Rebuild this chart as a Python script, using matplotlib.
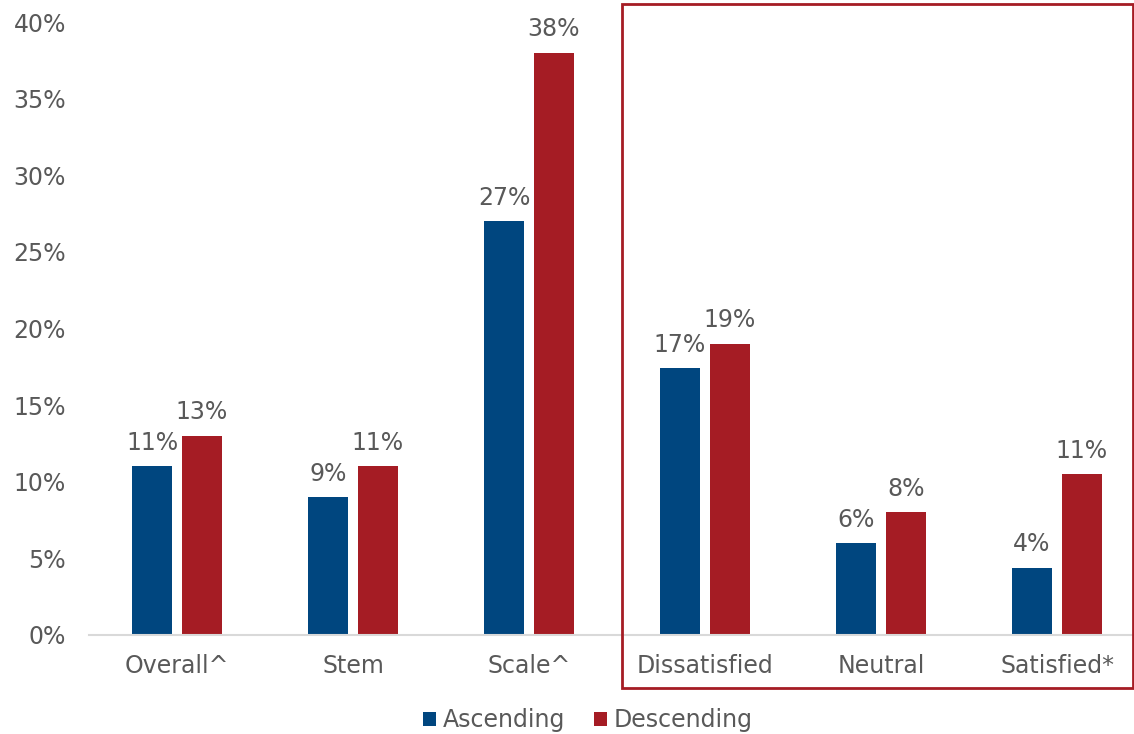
import matplotlib.pyplot as plt
from matplotlib import patches
import numpy as np

categories = ['Overall^', 'Stem', 'Scale^', 'Dissatisfied', 'Neutral', 'Satisfied*']
ascending = [11, 9, 27, 17.4, 6, 4.4]
descending = [13, 11, 38, 19, 8, 10.5]

blue = '#00467F'
red = '#A51C24'
grey = '#595959'

plt.rcParams['font.family'] = 'DejaVu Sans'
fs = 17

fig = plt.figure(figsize=(11.34, 7.34), dpi=100)
ax = fig.add_axes([89/1134, 1 - 635/734, 1056/1134, (635 - 22)/734])

x = np.arange(len(categories))
w = 0.222
off = 0.142
b1 = ax.bar(x - off, ascending, w, color=blue, label='Ascending')
b2 = ax.bar(x + off, descending, w, color=red, label='Descending')

# round half up for the value labels
for bars, vals in ((b1, ascending), (b2, descending)):
    for bar, v in zip(bars, vals):
        ax.text(bar.get_x() + bar.get_width()/2, v + 0.75, f'{int(v + 0.5)}%',
                ha='center', va='bottom', fontsize=fs, color=grey)

ax.set_xlim(-0.5, len(categories) - 0.5)
ax.set_ylim(0, 40)
ax.set_yticks(range(0, 41, 5))
ax.set_yticklabels([f'{t}%' for t in range(0, 41, 5)])
ax.set_xticks(x)
ax.set_xticklabels(categories)
ax.tick_params(axis='both', length=0, labelsize=fs, labelcolor=grey)
ax.tick_params(axis='y', pad=16.5)
ax.tick_params(axis='x', pad=14)

for s in ('top', 'right', 'left'):
    ax.spines[s].set_visible(False)
ax.spines['bottom'].set_color('#D9D9D9')
ax.spines['bottom'].set_linewidth(1.5)

# box around the satisfaction groups
box = patches.Rectangle((622/1134, 1 - 688/734), (1133 - 622)/1134, (688 - 4)/734,
                        transform=fig.transFigure, fill=False,
                        edgecolor=red, linewidth=2, clip_on=False)
fig.patches.append(box)

fig.legend(loc='center', bbox_to_anchor=(588/1134, 1 - 720/734), ncol=2,
           frameon=False, fontsize=fs, labelcolor=grey,
           handlelength=0.55, handleheight=0.55, handletextpad=0.3, columnspacing=1.2)

fig.savefig('out.png', dpi=100)
